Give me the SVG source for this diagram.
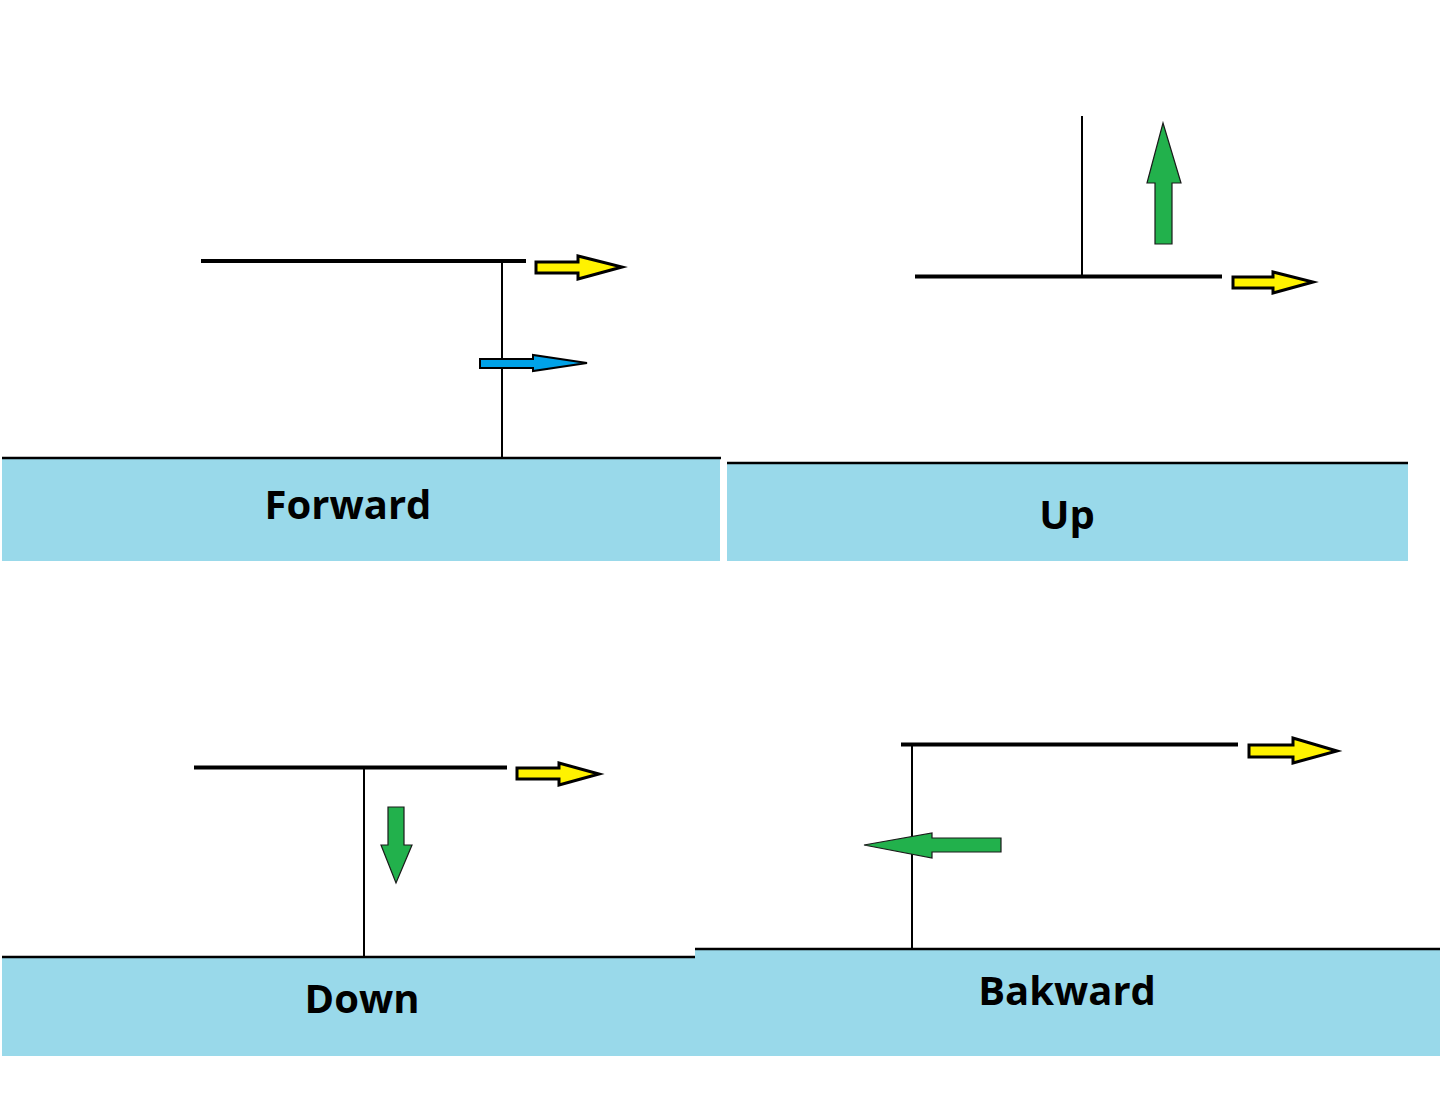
<svg xmlns="http://www.w3.org/2000/svg" width="1440" height="1095" viewBox="0 0 1440 1095">
<style>
.water{fill:#99d9ea}
.surf{stroke:#000;stroke-width:2.5;fill:none}
.wing{stroke:#000;stroke-width:4;fill:none;stroke-linecap:butt}
.mast{stroke:#000;stroke-width:2;fill:none}
.yel{fill:#fff200;stroke:#000;stroke-width:3;stroke-linejoin:miter}
.blu{fill:#00a2e8;stroke:#000;stroke-width:2}
.grn{fill:#22b14c;stroke:#1a1a1a;stroke-width:1.2}
.lbl{font-family:"Open Sans","Liberation Sans",sans-serif;font-weight:bold;font-size:40px;fill:#000;text-anchor:middle}
</style>
<rect width="1440" height="1095" fill="#fff"/>

<g id="forward">
<rect class="water" x="2" y="458" width="718" height="103"/>
<line class="surf" x1="2" y1="458" x2="721" y2="458"/>
<line class="wing" x1="201" y1="261" x2="526" y2="261"/>
<line class="mast" x1="502" y1="262" x2="502" y2="458"/>
<polygon class="yel" points="536,262 578,262 578,256 622,267 578,279 578,273 536,273"/>
<polygon class="blu" points="480,359 533,359 533,355 587,363 533,371 533,368 480,368"/>
<text class="lbl" x="348" y="519">Forward</text>
</g>

<g id="up">
<rect class="water" x="727" y="463" width="681" height="98"/>
<line class="surf" x1="727" y1="463" x2="1408" y2="463"/>
<line class="wing" x1="915" y1="276.5" x2="1222" y2="276.5"/>
<line class="mast" x1="1082" y1="116" x2="1082" y2="276"/>
<polygon class="grn" points="1163,123 1181,183 1172,183 1172,244 1155,244 1155,183 1147,183"/>
<polygon class="yel" points="1233,277 1273,277 1273,272 1313,282 1273,293 1273,288 1233,288"/>
<text class="lbl" x="1067" y="529">Up</text>
</g>

<g id="down">
<rect class="water" x="2" y="957" width="693" height="99"/>
<line class="surf" x1="2" y1="957" x2="695" y2="957"/>
<line class="wing" x1="194" y1="767.5" x2="507" y2="767.5"/>
<line class="mast" x1="364" y1="768" x2="364" y2="957"/>
<polygon class="grn" points="388,807 404,807 404,845 412,845 396,883 381,845 388,845"/>
<polygon class="yel" points="517,768 559,768 559,763 599,774 559,785 559,779 517,779"/>
<text class="lbl" x="362" y="1013">Down</text>
</g>

<g id="backward">
<rect class="water" x="695" y="949" width="745" height="107"/>
<line class="surf" x1="695" y1="949" x2="1440" y2="949"/>
<line class="wing" x1="901" y1="744.5" x2="1238" y2="744.5"/>
<line class="mast" x1="912" y1="744" x2="912" y2="949"/>
<polygon class="grn" points="864,845 932,833 932,838 1001,838 1001,852 932,852 932,858"/>
<polygon class="yel" points="1249,745 1293,745 1293,738 1337,751 1293,763 1293,757 1249,757"/>
<text class="lbl" x="1067" y="1005">Bakward</text>
</g>

<g id="connectors"></g>
</svg>
